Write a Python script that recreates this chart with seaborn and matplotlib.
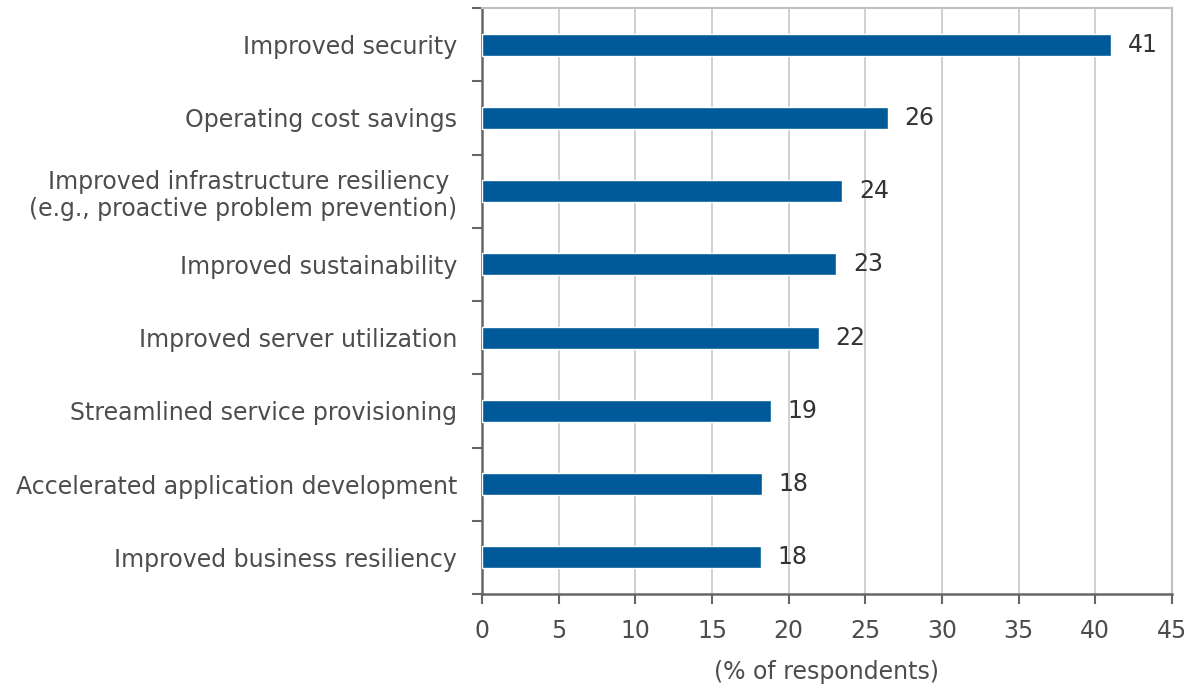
"""Benefits bar chart (% of respondents)."""

import matplotlib
matplotlib.use("Agg")
import matplotlib.pyplot as plt
import seaborn as sns
import pandas as pd
from matplotlib.ticker import FixedLocator

categories = [
    "Improved security",
    "Operating cost savings",
    "Improved infrastructure resiliency \n(e.g., proactive problem prevention)",
    "Improved sustainability",
    "Improved server utilization",
    "Streamlined service provisioning",
    "Accelerated application development",
    "Improved business resiliency",
]
values = [41.05, 26.45, 23.5, 23.1, 21.95, 18.85, 18.25, 18.2]
x_ticks = [0, 5, 10, 15, 20, 25, 30, 35, 40, 45]

BAR = "#005a9a"
TEXT = "#4d4d4d"
FS = 17

sns.set_theme(style="white")
plt.rcParams["font.family"] = ["DejaVu Sans"]

df = pd.DataFrame({"benefit": categories, "pct": values})

fig = plt.figure(figsize=(11.89, 6.89), dpi=100)
ax = fig.add_axes([482 / 1189, 1 - 594 / 689, (1172 - 482) / 1189, (594 - 8) / 689])

sns.barplot(data=df, x="pct", y="benefit", orient="h", color=BAR, saturation=1,
            width=0.3, edgecolor="white", linewidth=1, ax=ax, zorder=3)

for i, v in enumerate(values):
    ax.text(v + 1.1, i, f"{round(v)}", va="center", ha="left",
            fontsize=FS, color="#333333")

ax.set_xlim(0, 45)
ax.set_ylim(7.5, -0.5)
ax.set_xticks(x_ticks)
ax.xaxis.grid(True, color="#c8c8c8", linewidth=1.2, zorder=0)
ax.set_axisbelow(True)

ax.yaxis.set_minor_locator(FixedLocator([i - 0.5 for i in range(len(categories) + 1)]))
ax.tick_params(axis="y", which="major", length=0, pad=18, labelsize=FS, labelcolor=TEXT)
ax.tick_params(axis="y", which="minor", left=True, length=7, width=1.5, color="#666666")
ax.tick_params(axis="x", bottom=True, length=7, width=1.5, color="#666666",
               labelsize=FS, labelcolor=TEXT, pad=11)

for s in ["left", "bottom"]:
    ax.spines[s].set_color("#666666")
    ax.spines[s].set_linewidth(1.8)
for s in ["top", "right"]:
    ax.spines[s].set_color("#c0c0c0")
    ax.spines[s].set_linewidth(1.5)

ax.set_ylabel("")
ax.set_xlabel("(% of respondents)", fontsize=FS, color=TEXT, labelpad=12)

fig.savefig("out.png", dpi=100)
plt.close(fig)
